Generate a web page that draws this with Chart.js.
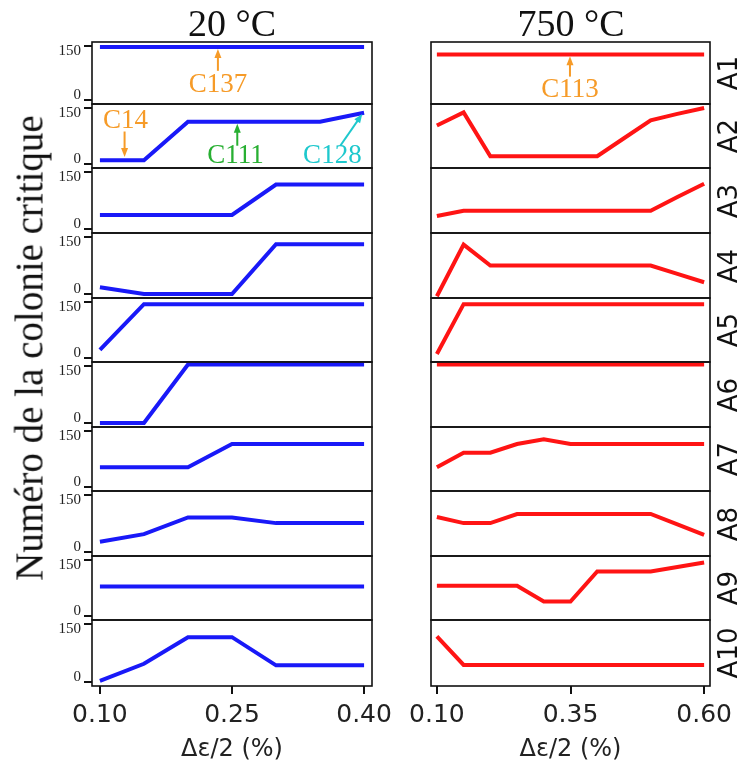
<!DOCTYPE html>
<html>
<head>
<meta charset="utf-8">
<script src="https://cdn.jsdelivr.net/npm/chart.js@4.4.1/dist/chart.umd.min.js"></script>
<style>
  body { margin:0; background:#fff; width:740px; height:760px; position:relative; overflow:hidden; }
  canvas { position:absolute; }
  .lbl { position:absolute; white-space:nowrap; transform:translate(-50%,-50%); color:#111; }
  .serif { font-family:'Liberation Serif', serif; }
  .sans { font-family:'DejaVu Sans', sans-serif; }
  .rot { transform:translate(-50%,-50%) rotate(-90deg); }
</style>
</head>
<body>
<script>
// strain amplitude (%) at which the critical colony was identified
const strainCold = [0.10, 0.15, 0.20, 0.25, 0.30, 0.35, 0.40];
const strainHot = [0.10, 0.15, 0.20, 0.25, 0.30, 0.35, 0.40, 0.45, 0.50, 0.55, 0.60];
const coldTicks = [0.10, 0.25, 0.40];
const hotTicks = [0.10, 0.35, 0.60];
const yTicks = [0, 150];
const rowNames = ['A1','A2','A3','A4','A5','A6','A7','A8','A9','A10'];

// 20 °C
const coldA1 = [147, 147, 147, 147, 147, 147, 147];
const coldA2 = [10, 10, 113, 113, 113, 113, 137];
const coldA3 = [37, 37, 37, 37, 117, 117, 117];
const coldA4 = [18, 0, 0, 0, 131, 131, 131];
const coldA5 = [22, 144, 144, 144, 144, 144, 144];
const coldA6 = [0, 0, 154, 154, 154, 154, 154];
const coldA7 = [53, 53, 53, 115, 115, 115, 115];
const coldA8 = [27, 47, 91, 91, 76, 76, 76];
const coldA9 = [79, 79, 79, 79, 79, 79, 79];
const coldA10 = [3, 47, 116, 116, 43, 43, 43];

// 750 °C
const hotA1 = [126, 126, 126, 126, 126, 126, 126, 126, 126, 126, 126];
const hotA2 = [103, 138, 21, 21, 21, 21, 21, 69, 117, 134, 150];
const hotA3 = [34, 48, 48, 48, 48, 48, 48, 48, 48, 84, 119];
const hotA4 = [-6, 130, 75, 75, 75, 75, 75, 75, 75, 53, 31];
const hotA5 = [11, 144, 144, 144, 144, 144, 144, 144, 144, 144, 144];
const hotA6 = [154, 154, 154, 154, 154, 154, 154, 154, 154, 154, 154];
const hotA7 = [53, 92, 92, 115, 128, 115, 115, 115, 115, 115, 115];
const hotA8 = [92, 76, 76, 100, 100, 100, 100, 100, 100, 73, 45];
const hotA9 = [81, 81, 81, 81, 39, 39, 119, 119, 119, 131, 143];
const hotA10 = [118, 44, 44, 44, 44, 44, 44, 44, 44, 44, 44];

const coldRows = [coldA1, coldA2, coldA3, coldA4, coldA5, coldA6, coldA7, coldA8, coldA9, coldA10];
const hotRows = [hotA1, hotA2, hotA3, hotA4, hotA5, hotA6, hotA7, hotA8, hotA9, hotA10];

// colony labels: text position and arrow in data units of the panel
const ORANGE = 'rgb(246,155,40)', GREEN = 'rgb(40,175,50)', CYAN = 'rgb(30,200,205)';
const coldNotes = {
  0: [{ text:'C137', color:ORANGE, at:[0.234, 43], from:[0.234, 81], to:[0.234, 141] }],
  1: [{ text:'C14', color:ORANGE, at:[0.129, 115], from:[0.128, 87], to:[0.128, 19] },
      { text:'C111', color:GREEN, at:[0.254, 22], from:[0.256, 49], to:[0.256, 108] },
      { text:'C128', color:CYAN, at:[0.364, 22], from:[0.373, 49], to:[0.398, 134] }]
};
const hotNotes = {
  0: [{ text:'C113', color:ORANGE, at:[0.349, 27], from:[0.349, 65], to:[0.349, 121] }]
};

const rowTops = [42, 104, 168, 233, 298, 362, 427, 491, 556, 620, 686];
const Y_MIN = -10.5, Y_MAX = 160.5;
const PAD = 14;

const framePlugin = {
  id: 'frame',
  afterDatasetsDraw(chart) {
    const { ctx, chartArea: a } = chart;
    ctx.save();
    ctx.strokeStyle = '#111';
    ctx.lineWidth = 1.6;
    ctx.strokeRect(a.left, a.top, a.right - a.left, a.bottom - a.top);
    ctx.restore();
  }
};

function notesPlugin(notes) {
  return {
    id: 'notes',
    afterDatasetsDraw(chart) {
      const { ctx, scales: { x, y } } = chart;
      notes.forEach(n => {
        ctx.save();
        ctx.fillStyle = n.color;
        ctx.strokeStyle = n.color;
        ctx.font = '27px "Liberation Serif"';
        ctx.textAlign = 'center';
        ctx.textBaseline = 'middle';
        ctx.fillText(n.text, x.getPixelForValue(n.at[0]), y.getPixelForValue(n.at[1]));
        const x1 = x.getPixelForValue(n.from[0]), y1 = y.getPixelForValue(n.from[1]);
        const x2 = x.getPixelForValue(n.to[0]), y2 = y.getPixelForValue(n.to[1]);
        const ang = Math.atan2(y2 - y1, x2 - x1);
        ctx.lineWidth = 2;
        ctx.beginPath();
        ctx.moveTo(x1, y1);
        ctx.lineTo(x2 - 6 * Math.cos(ang), y2 - 6 * Math.sin(ang));
        ctx.stroke();
        ctx.beginPath();
        ctx.moveTo(x2, y2);
        ctx.lineTo(x2 - 9 * Math.cos(ang) + 3.5 * Math.sin(ang), y2 - 9 * Math.sin(ang) - 3.5 * Math.cos(ang));
        ctx.lineTo(x2 - 9 * Math.cos(ang) - 3.5 * Math.sin(ang), y2 - 9 * Math.sin(ang) + 3.5 * Math.cos(ang));
        ctx.closePath();
        ctx.fill();
        ctx.restore();
      });
    }
  };
}

function makeRow(side, i) {
  const cold = side === 'cold';
  const last = i === rowNames.length - 1;
  const top = rowTops[i] - PAD;
  const height = last ? 764 - top : rowTops[i + 1] - rowTops[i] + 2 * PAD;
  const canvas = document.createElement('canvas');
  canvas.width = cold ? 400 : 340;
  canvas.height = height;
  canvas.style.left = (cold ? 0 : 400) + 'px';
  canvas.style.top = top + 'px';
  document.body.appendChild(canvas);

  const xs = cold ? strainCold : strainHot;
  const ys = cold ? coldRows[i] : hotRows[i];
  const ticks = cold ? coldTicks : hotTicks;
  const notes = (cold ? coldNotes : hotNotes)[i] || [];

  new Chart(canvas, {
    type: 'line',
    data: {
      datasets: [{
        data: xs.map((v, k) => ({ x: v, y: ys[k] })),
        borderColor: cold ? 'rgb(25,25,248)' : 'rgb(255,20,20)',
        borderWidth: 4,
        pointRadius: 0,
        tension: 0,
        fill: false
      }]
    },
    options: {
      responsive: false,
      animation: false,
      layout: { padding: { left: cold ? 0 : 31, right: cold ? 28 : 30, top: PAD, bottom: last ? 0 : PAD } },
      plugins: { legend: { display: false }, tooltip: { enabled: false } },
      scales: {
        x: {
          type: 'linear',
          min: cold ? 0.091 : 0.089,
          max: cold ? 0.409 : 0.611,
          display: last,
          afterBuildTicks: s => { s.ticks = ticks.map(v => ({ value: v })); },
          afterFit: s => { if (last) s.height = 78; },
          ticks: { callback: v => v.toFixed(2), font: { family: 'DejaVu Sans', size: 25 }, color: '#222', padding: 6, maxRotation: 0, autoSkip: false },
          grid: { drawOnChartArea: false, tickLength: 8, color: '#111', lineWidth: 2 },
          border: { display: false },
          title: { display: true, text: 'Δε/2 (%)', font: { family: 'DejaVu Sans', size: 24 }, color: '#222', padding: { top: 2, bottom: 0 } }
        },
        y: {
          min: Y_MIN,
          max: Y_MAX,
          display: cold,
          afterBuildTicks: s => { s.ticks = yTicks.map(v => ({ value: v })); },
          afterFit: s => { if (cold) s.width = 92; },
          // labels nudged inward from their tick, as in the original
          ticks: {
            callback: v => v === 150 ? ['', '150'] : ['0', ''],
            font: { family: 'Liberation Serif', size: 15, lineHeight: 0.7 },
            color: '#222', padding: 3
          },
          grid: { drawOnChartArea: false, tickLength: 8, color: '#111', lineWidth: 2 },
          border: { display: false }
        }
      }
    },
    plugins: [framePlugin, notesPlugin(notes)]
  });
}

rowNames.forEach((_, i) => { makeRow('cold', i); makeRow('hot', i); });

function label(text, cls, x, y, size) {
  const d = document.createElement('div');
  d.className = 'lbl ' + cls;
  d.textContent = text;
  d.style.left = x + 'px';
  d.style.top = y + 'px';
  d.style.fontSize = size + 'px';
  document.body.appendChild(d);
}

label('20 °C', 'serif', 232, 23, 38);
label('750 °C', 'serif', 571, 23, 38);
label('Numéro de la colonie critique', 'serif rot', 29, 348, 39);
rowNames.forEach((name, i) => {
  label(name, 'sans rot', 728, (rowTops[i] + rowTops[i + 1]) / 2, 26);
});
</script>
</body>
</html>
